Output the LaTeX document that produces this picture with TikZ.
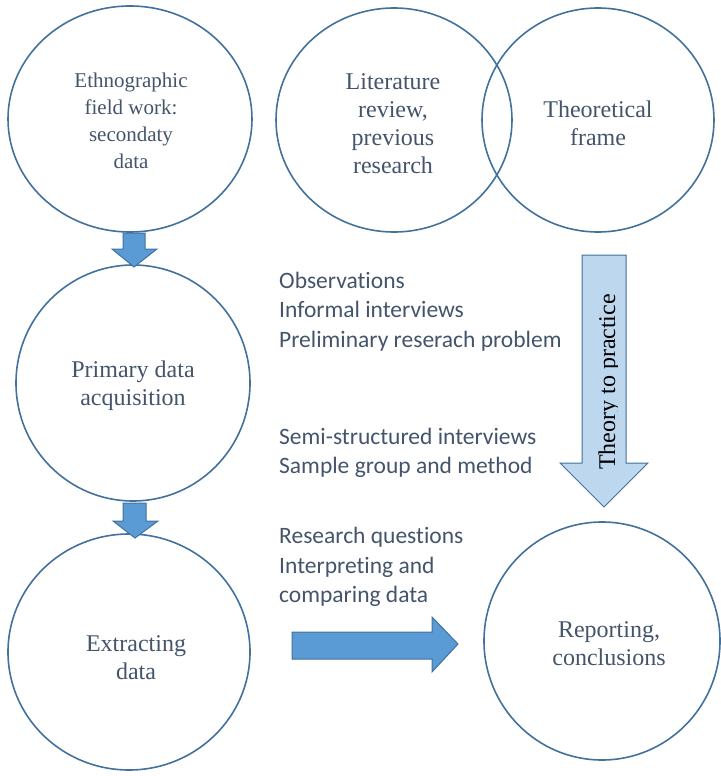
\documentclass[tikz,border=0pt]{standalone}
\usepackage{fontspec}
\setmainfont{Liberation Serif}
\newfontfamily\notefont[Ligatures=NoCommon]{Carlito}
\definecolor{ringblue}{HTML}{41719C}
\definecolor{arrowblue}{HTML}{5B9BD5}
\definecolor{paleblue}{HTML}{BDD7EE}
\definecolor{inkgray}{HTML}{44546A}
\begin{document}
\begin{tikzpicture}[x=1pt,y=-1pt,
  ring/.style={draw=ringblue, line width=1.6pt},
  stagetext/.style={text=inkgray, align=center, font=\fontsize{24}{28}\selectfont},
  notes/.style={anchor=west, align=left, text=inkgray, inner sep=0pt,
    font=\notefont\fontsize{23.5}{29.5}\selectfont},
  blockarrow/.style={fill=arrowblue, draw=ringblue, line width=1pt, line join=miter},
  widearrow/.style={fill=paleblue, draw=ringblue, line width=1pt, line join=miter}]
\useasboundingbox (0,0) rectangle (720,776);

% stage ellipses
\draw[ring] (130,119) ellipse (122 and 113);
\draw[ring] (394,120) ellipse (118 and 112);
\draw[ring] (598,120) ellipse (116 and 112);
\draw[ring] (133,383) ellipse (117 and 118);
\draw[ring] (129,652) ellipse (121 and 118);
\draw[ring] (602,641) ellipse (118 and 119);

% stage labels
\node[stagetext, font=\fontsize{21}{27}\selectfont] (field) at (131,121)
  {Ethnographic\\field work:\\secondaty\\data};
\node[stagetext] (lit) at (393,124)
  {Literature\\review,\\previous\\research};
\node[stagetext] (theory) at (598,123)
  {Theoretical\\frame};
\node[stagetext] (primary) at (133,386)
  {Primary data\\acquisition};
\node[stagetext] (extract) at (136,658)
  {Extracting\\data};
\node[stagetext] (report) at (609,644)
  {Reporting,\\conclusions};

% down arrows between the left stages
\draw[blockarrow] (123,233) -- (145,233) -- (145,249) -- (157,249) -- (134,267)
  -- (112,249) -- (123,249) -- cycle;
\draw[blockarrow] (123,503) -- (146,503) -- (146,521) -- (158,521) -- (135,538)
  -- (113,521) -- (123,521) -- cycle;

% arrow towards reporting
\draw[blockarrow] (292,632) -- (432,632) -- (432,617) -- (458,644) -- (432,672)
  -- (432,659) -- (292,659) -- cycle;

% theory to practice arrow
\draw[widearrow] (582,255) -- (626,255) -- (626,463) -- (648,463) -- (604,507)
  -- (560,463) -- (582,463) -- cycle;
\begin{scope}
  \clip (583,256) rectangle (617,500);
  \node[rotate=90, text=black, inner sep=0pt, font=\fontsize{24}{28}\selectfont,
    anchor=base] (ttp) at (615,382) {Theory to practice};
\end{scope}

% side notes
\node[notes] (obs) at (279,311.5)
  {Observations\\Informal interviews\\Preliminary reserach problem};
\node[notes] (semi) at (279,453)
  {Semi-structured interviews\\Sample group and method};
\node[notes] (rq) at (279,567)
  {Research questions\\Interpreting and\\comparing data};
\end{tikzpicture}
\end{document}
